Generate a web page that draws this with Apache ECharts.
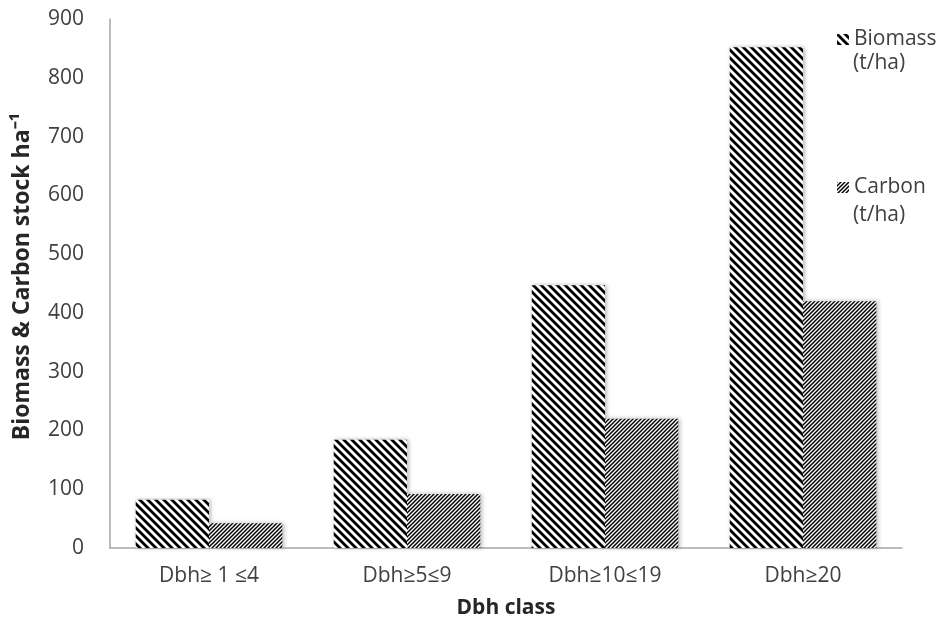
<!DOCTYPE html>
<html>
<head>
<meta charset="utf-8">
<script src="https://cdn.jsdelivr.net/npm/echarts@6/dist/echarts.min.js"></script>
<style>
html,body{margin:0;padding:0;background:#fff;}
#chart{width:940px;height:637px;}
</style>
</head>
<body>
<div id="chart"></div>
<script>
const categories = ['Dbh\u2265 1 \u22644', 'Dbh\u22655\u22649', 'Dbh\u226510\u226419', 'Dbh\u226520'];
const biomass = [82, 184, 447, 852];
const carbon = [42, 92, 220, 420];
const yTicks = {min: 0, max: 900, interval: 100};
const seriesNames = ['Biomass (t/ha)', 'Carbon (t/ha)'];

function makePattern(period, lw, dir) {
  const c = document.createElement('canvas');
  c.width = period; c.height = period;
  const ctx = c.getContext('2d');
  ctx.fillStyle = '#fff';
  ctx.fillRect(0, 0, period, period);
  ctx.strokeStyle = '#000';
  ctx.lineWidth = lw;
  ctx.lineCap = 'square';
  for (let k = -1; k <= 1; k++) {
    ctx.beginPath();
    if (dir === 'back') {
      ctx.moveTo(k * period, 0);
      ctx.lineTo(k * period + period, period);
    } else {
      ctx.moveTo(k * period, period);
      ctx.lineTo(k * period + period, 0);
    }
    ctx.stroke();
  }
  return c;
}

const font = '"Open Sans", sans-serif';
const chart = echarts.init(document.getElementById('chart'));
const bioPat = {image: makePattern(8, 2.8, 'back'), repeat: 'repeat'};
const carPat = {image: makePattern(4, 1.5, 'fwd'), repeat: 'repeat'};

chart.setOption({
  backgroundColor: '#fff',
  animation: false,
  grid: {left: 110, right: 38, top: 19, bottom: 89},
  legend: {
    orient: 'vertical',
    left: 832,
    top: 24,
    itemWidth: 12,
    itemHeight: 11,
    itemGap: 127,
    icon: 'rect',
    data: seriesNames,
    formatter: function (n) { return n.replace(' (t/ha)', ''); },
    textStyle: {fontFamily: font, fontSize: 21, color: '#404040'}
  },
  graphic: [
    {type: 'text', left: 853, top: 53, z: 10, style: {text: '(t/ha)', font: '21px "Open Sans", sans-serif', fill: '#404040'}},
    {type: 'text', left: 853, top: 205, z: 10, style: {text: '(t/ha)', font: '21px "Open Sans", sans-serif', fill: '#404040'}}
  ],
  xAxis: {
    type: 'category',
    data: categories,
    name: 'Dbh class',
    nameLocation: 'middle',
    nameGap: 50,
    nameTextStyle: {fontFamily: font, fontSize: 21, fontWeight: 'bold', color: '#262626'},
    axisLine: {lineStyle: {color: '#a6a6a6', width: 1.5}},
    axisTick: {show: false},
    axisLabel: {fontFamily: font, fontSize: 21, color: '#404040', margin: 18}
  },
  yAxis: {
    type: 'value',
    min: yTicks.min, max: yTicks.max, interval: yTicks.interval,
    name: 'Biomass & Carbon stock ha\u207B\u00B9',
    nameLocation: 'middle',
    nameGap: 76,
    nameTextStyle: {fontFamily: font, fontSize: 23, fontWeight: 'bold', color: '#262626', padding: [0, 0, 0, 14]},
    axisLine: {show: true, lineStyle: {color: '#a6a6a6', width: 1.5}},
    axisTick: {show: false},
    splitLine: {show: false},
    axisLabel: {fontFamily: font, fontSize: 21, color: '#404040', margin: 26}
  },
  series: [
    {
      name: seriesNames[0], type: 'bar', data: biomass,
      barGap: '0%', barCategoryGap: '26%',
      itemStyle: {color: bioPat, shadowBlur: 4, shadowColor: 'rgba(0,0,0,0.3)', shadowOffsetX: 1.5}
    },
    {
      name: seriesNames[1], type: 'bar', data: carbon,
      itemStyle: {color: carPat, shadowBlur: 4, shadowColor: 'rgba(0,0,0,0.3)', shadowOffsetX: 1.5}
    }
  ]
});
</script>
</body>
</html>
